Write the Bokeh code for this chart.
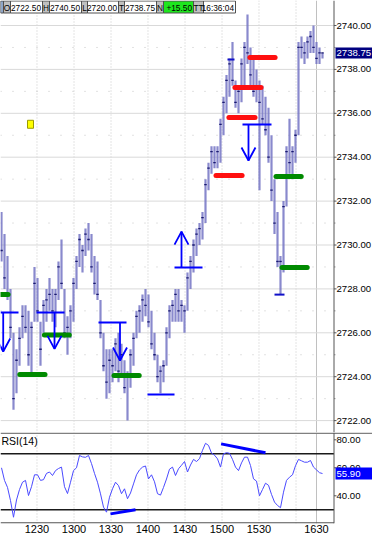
import numpy as np
from bokeh.plotting import figure
from bokeh.layouts import column
from bokeh.models import Range1d, FixedTicker, Span
from bokeh.core.properties import value
from bokeh.embed import file_html
from bokeh.resources import INLINE

FONT = "Liberation Sans"

# ---------------- data ----------------
price_high = [2731.50, 2730.50, 2729.50, 2728.00, 2726.00, 2725.25, 2726.25, 2727.25, 2727.25, 2727.00,
              2726.50, 2729.00, 2728.50, 2726.50, 2727.50, 2728.00, 2728.50, 2728.00, 2728.00, 2729.25,
              2730.25, 2728.00, 2726.75, 2727.25, 2728.50, 2729.50, 2730.50, 2730.00, 2730.75, 2731.00,
              2730.50, 2729.50, 2729.25, 2727.50, 2726.00, 2725.25, 2725.25, 2725.25, 2725.75, 2726.00,
              2725.50, 2724.75, 2724.25, 2725.25, 2726.00, 2727.00, 2727.25, 2727.75, 2728.00, 2727.75,
              2727.00, 2726.00, 2725.00, 2724.50, 2724.75, 2726.25, 2727.25, 2727.50, 2728.00, 2728.00,
              2727.50, 2727.25, 2728.75, 2729.50, 2730.25, 2730.75, 2731.00, 2731.50, 2733.00, 2733.75,
              2734.50, 2734.50, 2734.50, 2735.75, 2736.75, 2737.75, 2738.50, 2739.25, 2737.50, 2737.25,
              2738.50, 2739.25, 2740.50, 2739.00, 2738.50, 2738.00, 2737.50, 2737.25, 2736.75, 2736.25,
              2735.00, 2733.00, 2731.50, 2729.50, 2732.00, 2734.50, 2735.75, 2734.50, 2735.25, 2739.25,
              2739.50, 2739.25, 2739.50, 2739.75, 2740.00, 2739.25, 2739.00, 2738.75]
price_low = [2729.25, 2728.00, 2727.50, 2725.75, 2722.50, 2723.25, 2724.50, 2725.75, 2726.00, 2724.50,
             2724.00, 2726.50, 2726.50, 2724.50, 2726.00, 2726.50, 2727.00, 2726.50, 2726.25, 2727.50,
             2728.00, 2725.75, 2725.00, 2725.75, 2726.50, 2728.00, 2729.00, 2728.75, 2729.50, 2729.75,
             2728.75, 2727.75, 2727.50, 2725.75, 2724.25, 2723.00, 2723.25, 2723.75, 2724.25, 2723.75,
             2724.00, 2723.25, 2722.00, 2723.50, 2724.50, 2725.75, 2726.00, 2726.50, 2726.75, 2726.25,
             2725.25, 2724.75, 2723.75, 2723.25, 2723.75, 2724.50, 2725.75, 2726.50, 2726.50, 2726.50,
             2726.50, 2726.00, 2727.00, 2728.00, 2728.75, 2729.50, 2730.00, 2730.25, 2731.00, 2732.50,
             2733.25, 2733.50, 2733.50, 2733.75, 2735.00, 2736.00, 2736.75, 2737.25, 2736.25, 2736.00,
             2736.50, 2737.25, 2738.25, 2737.25, 2736.75, 2736.50, 2732.50, 2735.50, 2735.00, 2733.75,
             2732.00, 2730.50, 2729.00, 2727.75, 2728.75, 2731.75, 2733.25, 2733.00, 2733.75, 2735.00,
             2738.50, 2738.25, 2738.50, 2738.75, 2738.75, 2738.25, 2738.25, 2738.50]
price_close = [2729.75, 2728.50, 2727.75, 2726.25, 2723.00, 2724.75, 2725.75, 2726.75, 2726.25, 2725.00,
               2726.25, 2728.25, 2727.00, 2725.25, 2727.25, 2727.50, 2727.75, 2727.00, 2727.75, 2729.00,
               2728.25, 2726.00, 2726.25, 2727.00, 2728.25, 2729.25, 2730.25, 2729.75, 2730.50, 2730.25,
               2729.00, 2728.25, 2727.75, 2726.00, 2724.50, 2723.75, 2724.75, 2724.50, 2725.50, 2724.25,
               2725.00, 2723.50, 2724.00, 2725.00, 2725.75, 2726.75, 2727.00, 2727.50, 2727.25, 2726.50,
               2725.50, 2725.00, 2724.00, 2724.25, 2724.50, 2726.00, 2727.00, 2727.25, 2727.75, 2727.00,
               2727.25, 2727.00, 2728.50, 2729.25, 2730.00, 2730.50, 2730.75, 2731.25, 2732.75, 2733.50,
               2734.25, 2733.75, 2734.25, 2735.50, 2736.50, 2737.50, 2738.25, 2737.50, 2736.50, 2737.00,
               2738.25, 2739.00, 2738.75, 2737.75, 2737.00, 2737.25, 2736.50, 2735.75, 2735.25, 2734.00,
               2732.50, 2731.00, 2729.25, 2729.25, 2731.75, 2734.25, 2733.75, 2734.25, 2735.00, 2739.00,
               2739.00, 2738.75, 2739.25, 2739.50, 2739.00, 2738.50, 2738.75, 2738.75]
rsi_values = [60, 51, 46, 36.6, 24.7, 37, 44.5, 49.7, 51, 40.2,
              46.5, 55, 55, 51, 51.5, 56, 57, 54.5, 58, 59.5,
              60.5, 46.5, 41.6, 49.7, 58, 60, 68.8, 67.8, 67.5, 68.8,
              63, 56, 49.7, 41.4, 31.9, 28.3, 39, 45, 49.7, 47.3,
              41.5, 45, 37.9, 42, 48.5, 55, 58.5, 60.5, 61.3, 52.1,
              55, 50, 41.5, 40.5, 46, 52, 59, 60.5, 54.5, 59.3,
              61.8, 64.5, 57, 62, 66, 64.5, 66.5, 72.5, 77.5, 76,
              70.5, 69, 66.4, 60.5, 70, 70.8, 70.4, 66, 60.5, 58,
              63.5, 67.6, 67.6, 61.6, 52.1, 50.5, 40, 44.5, 49, 47.5,
              41, 35.5, 33.1, 31.5, 42.6, 51, 53.3, 55, 61.5, 66,
              65, 64, 64, 65.2, 60.5, 58.5, 56.5, 55.9]

time_labels = ["1230", "1300", "1330", "1400", "1430", "1500", "1530", "1600", "1630"]
time_bar_pos = [11.83, 24.17, 36.5, 48.83, 61.17, 73.5, 85.83, 98.17, 105.0]
time_label_shown = [True, True, True, True, True, True, True, False, True]

price_ticks = [2722, 2724, 2726, 2728, 2730, 2732, 2734, 2736, 2738, 2740]
price_minor = [2721, 2723, 2725, 2727, 2729, 2731, 2733, 2735, 2737, 2739]
rsi_ticks = [40, 60, 80]
rsi_upper, rsi_lower = 70, 30
last_price = 2738.75
last_rsi = 55.90

green_x0 = [-1.0, 6.1, 14.3, 37.5, 91.5, 93.5]
green_x1 = [2.2, 14.5, 22.6, 45.9, 99.9, 101.9]
green_price = [2727.75, 2724.10, 2725.90, 2724.05, 2733.12, 2728.97]

red_x0 = [71.5, 75.8, 77.8, 82.8]
red_x1 = [80.2, 84.5, 86.5, 91.2]
red_price = [2733.17, 2735.81, 2737.18, 2738.54]

blue_x0 = [-0.33, 11.67, 32.33, 48.67, 57.67, 80.33]
blue_x1 = [5.67, 21.0, 41.67, 57.67, 67.0, 90.0]
blue_price = [2726.93, 2726.93, 2726.47, 2723.19, 2728.97, 2735.49]

arrow_x = [0.57, 17.67, 39.5, 60.0, 82.33]
arrow_from = [2726.93, 2726.93, 2726.47, 2728.97, 2735.49]
arrow_to = [2725.15, 2725.27, 2724.74, 2730.61, 2733.85]

dash_x0 = [75.33, 91.0]
dash_x1 = [77.67, 94.33]
dash_price = [2738.45, 2727.74]

div_x0 = [36.33, 73.2]
div_x1 = [44.67, 88.0]
div_r0 = [27.1, 77.1]
div_r1 = [30.0, 70.7]

marker_x = [9.67]
marker_price = [2735.5]

info_tags = ["O", "H", "L", "T", "N", "TT"]
info_values = ["2722.50", "2740.50", "2720.00", "2738.75", "+15.50", "16:36:04"]

# ---------------- geometry ----------------
W = 372
MAIN_H = 432
RSI_H = 105
AXIS_PX = 333.5          # pixel column of the price/RSI axis line
BAR_PX = 3.0
PT_PX = 21.95
R_PX = 1.4
RSI_AXIS_H = 14
RSI_FRAME_H = RSI_H - RSI_AXIS_H
AX_FONT = "9.6px"

x_start = -1.0 / BAR_PX
x_end = x_start + W / BAR_PX
p_top = 2740.0 + 25.0 / PT_PX
p_bot = p_top - MAIN_H / PT_PX
r_top = 70.0 + 21.3 / R_PX
r_bot = r_top - RSI_FRAME_H / R_PX


def px2x(px):
    return x_start + px / BAR_PX


def py2p(py):
    return p_top - py / PT_PX


def py2r(py):
    return r_top - (py - MAIN_H) / R_PX


axis_x = px2x(AXIS_PX)
idx = np.arange(len(price_high))
x_range = Range1d(x_start, x_end)


def base_fig(h, y0, y1, xaxis):
    f = figure(width=W, height=h, x_range=x_range, y_range=Range1d(y0, y1),
               output_backend="svg", toolbar_location=None,
               x_axis_location=xaxis, y_axis_location=None,
               min_border_left=0, min_border_right=0, min_border_top=0,
               min_border_bottom=(RSI_AXIS_H if xaxis else 0))
    f.outline_line_color = None
    f.background_fill_color = "white"
    f.border_fill_color = "white"
    f.xgrid.grid_line_color = None
    f.ygrid.grid_line_color = None
    for pos, lab in zip(time_bar_pos, time_labels):
        solid = lab == time_labels[-1]
        f.add_layout(Span(location=pos, dimension="height", level="underlay",
                          line_color="#c0c0c0" if solid else "#c8c8c8",
                          line_dash="solid" if solid else "1 2", line_width=1))
    return f


def right_axis(f, ticks, minor, fmt_vals, half_h, box_val, box_color, unit_px):
    f.add_layout(Span(location=axis_x, dimension="height", line_color="#555555",
                      line_width=1))
    f.segment(x0=[axis_x] * len(ticks), y0=ticks, x1=[px2x(AXIS_PX + 2.5)] * len(ticks),
              y1=ticks, line_color="#555555", line_width=1)
    if minor:
        f.segment(x0=[axis_x] * len(minor), y0=minor, x1=[px2x(AXIS_PX + 1.5)] * len(minor),
                  y1=minor, line_color="#999999", line_width=1)
    f.text(x=[px2x(AXIS_PX + 2.5)] * len(ticks), y=ticks, text=fmt_vals,
           text_align="left", text_baseline="middle", text_font=value(FONT),
           text_font_size=AX_FONT, text_color="black")
    hh = half_h / unit_px
    f.quad(left=[px2x(AXIS_PX + 1.5)], right=[px2x(W + 2)], top=[box_val + hh],
           bottom=[box_val - hh], fill_color=box_color, line_color=None)
    f.text(x=[px2x(AXIS_PX + 2.5)], y=[box_val], text=[f"{box_val:.2f}"],
           text_align="left", text_baseline="middle", text_font=value(FONT),
           text_font_size=AX_FONT, text_color="white")


# ---------------- main price panel ----------------
p1 = base_fig(MAIN_H, p_bot, p_top, None)

# horizontal grid (stops at the axis)
p1.segment(x0=[x_start] * len(price_ticks), y0=price_ticks, x1=[axis_x] * len(price_ticks),
           y1=price_ticks, line_color="#d9d9d9", line_width=1)
p1.segment(x0=[x_start] * len(price_minor), y0=price_minor, x1=[axis_x] * len(price_minor),
           y1=price_minor, line_color="#c4c4c4", line_width=1, line_dash="1 11")

# price bars
p1.segment(x0=idx, y0=price_low, x1=idx, y1=price_high,
           line_color="#7474c4", line_width=2.2, line_alpha=0.85)
p1.scatter(x=idx, y=price_close, marker="dash", size=2.5,
           line_color="#1a1a70", line_width=1.3)

# level lines
p1.segment(x0=green_x0, y0=green_price, x1=green_x1, y1=green_price,
           line_color="#008a00", line_width=5, line_cap="round")
p1.segment(x0=red_x0, y0=red_price, x1=red_x1, y1=red_price,
           line_color="#ff1010", line_width=5, line_cap="round")
p1.segment(x0=blue_x0, y0=blue_price, x1=blue_x1, y1=blue_price,
           line_color="#0000ff", line_width=2)
p1.segment(x0=dash_x0, y0=dash_price, x1=dash_x1, y1=dash_price,
           line_color="#1010c8", line_width=2)

# arrows (shaft + head)
head_dx = 7.0 / BAR_PX
head_dy = 13.0 / PT_PX
arr_xs, arr_ys = [], []
for ax, a0, a1 in zip(arrow_x, arrow_from, arrow_to):
    arr_xs.append([ax, ax])
    arr_ys.append([a0, a1])
    back = head_dy if a1 < a0 else -head_dy
    arr_xs.append([ax - head_dx, ax, ax + head_dx])
    arr_ys.append([a1 + back, a1, a1 + back])
p1.multi_line(xs=arr_xs, ys=arr_ys, line_color="#0000ff", line_width=1.8)

# small yellow marker
p1.rect(x=marker_x, y=marker_price, width=6, height=8, width_units="screen",
        height_units="screen", fill_color="#ffff00", line_color="#9a9a00")

right_axis(p1, price_ticks, price_minor, [f"{t:.2f}" for t in price_ticks],
           5.5, last_price, "#000080", PT_PX)

# info bar at top
tag_w = [7, 7, 6, 6, 7, 10]
val_w = [32, 32, 31, 32, 30, 32]
bar_top, bar_bot = py2p(0.5), py2p(12.5)
cx = 3
ql, qr, qc = [0], [3], ["#8fa6c8"]
tx, tt, ta = [], [], []
for tg, vl, wt, wv in zip(info_tags, info_values, tag_w, val_w):
    ql.append(cx); qr.append(cx + wt); qc.append("#c0c0c0")
    tx.append(px2x(cx + wt / 2.0)); tt.append(tg); ta.append("center")
    cx += wt
    ql.append(cx); qr.append(cx + wv)
    qc.append("#1ee61e" if vl.startswith("+") else "white")
    tx.append(px2x(cx + wv - 1.5)); tt.append(vl); ta.append("right")
    cx += wv
p1.quad(left=[px2x(v) for v in ql], right=[px2x(v) for v in qr],
        top=bar_top, bottom=bar_bot, fill_color=qc, line_color="#505050",
        line_width=1)
p1.text(x=tx, y=[py2p(7)] * len(tx), text=tt, text_align=ta,
        text_baseline="middle", text_font=value(FONT), text_font_size="8.3px",
        text_color="black")

# ---------------- RSI panel ----------------
p2 = base_fig(RSI_H, r_bot, r_top, "below")

p2.segment(x0=[x_start], y0=[r_top - 0.7 / R_PX], x1=[x_end], y1=[r_top - 0.7 / R_PX],
           line_color="#808080", line_width=1.5)
p2.segment(x0=[x_start, x_start], y0=[rsi_upper, rsi_lower], x1=[axis_x, axis_x],
           y1=[rsi_upper, rsi_lower], line_color="#1a1a1a", line_width=1.5)
p2.segment(x0=[x_start], y0=[r_bot + 0.6 / R_PX], x1=[axis_x], y1=[r_bot + 0.6 / R_PX],
           line_color="#555555", line_width=1.2)

p2.line(x=idx, y=rsi_values, line_color="#4a4aff", line_width=1)
p2.segment(x0=div_x0, y0=div_r0, x1=div_x1, y1=div_r1,
           line_color="#0000ff", line_width=3)

right_axis(p2, rsi_ticks, [], [f"{t:.2f}" for t in rsi_ticks],
           6, last_rsi, "#0000ff", R_PX)

p2.xaxis.ticker = FixedTicker(ticks=time_bar_pos)
p2.xaxis.major_label_overrides = {pos: (lab if show else "")
                                  for pos, lab, show in zip(time_bar_pos, time_labels, time_label_shown)}
p2.xaxis.major_label_text_font = FONT
p2.xaxis.major_label_text_font_size = "11px"
p2.xaxis.major_label_text_color = "black"
p2.xaxis.major_label_standoff = 1
p2.xaxis.major_tick_out = 0
p2.xaxis.major_tick_in = 0
p2.xaxis.minor_tick_out = 0
p2.xaxis.minor_tick_in = 0
p2.xaxis.axis_line_color = None

p2.text(x=[px2x(1)], y=[py2r(440)], text=["RSI(14)"], text_align="left",
        text_baseline="middle", text_font=value(FONT), text_font_size="10.5px",
        text_color="black")

layout = column(p1, p2, spacing=0)
open("out.html", "w").write(file_html(layout, INLINE))
